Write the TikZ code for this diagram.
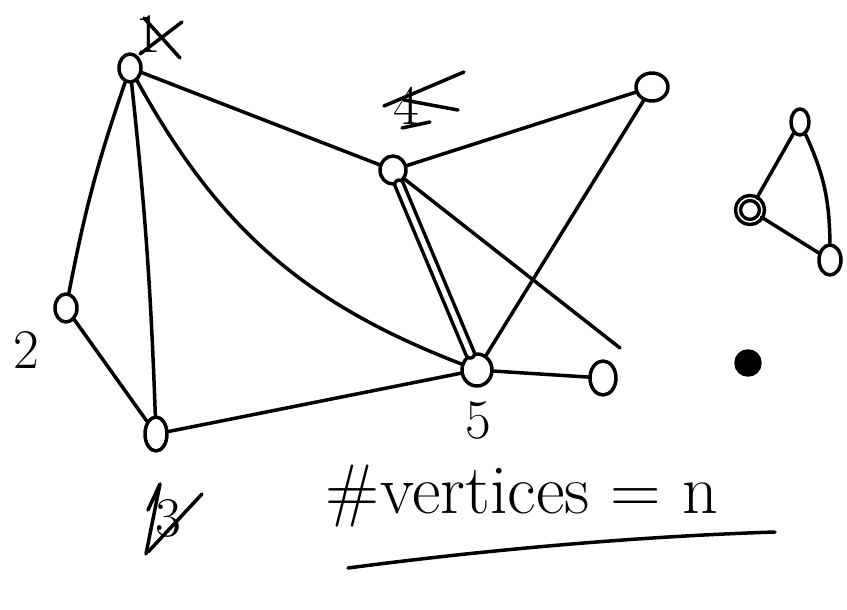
\documentclass[tikz,border=0pt]{standalone}
\usepackage{tikz}
\usetikzlibrary{shapes.geometric,positioning}
\begin{document}
\begin{tikzpicture}[x=1pt,y=-1pt,line cap=round,line join=round,
  vtx/.style={draw,ellipse,line width=3.5pt,minimum width=22pt,minimum height=28pt,inner sep=0pt},
  edge/.style={line width=3.5pt},
  lbl/.style={font=\fontsize{56}{62}\selectfont,inner sep=0pt}]
  \useasboundingbox (0,0) rectangle (847,610);
  % Main graph vertices
  \node[vtx] (v1) at (130,68) {};
  \node[vtx] (v2) at (66,308) {};
  \node[vtx,minimum height=34pt] (v3) at (156,434) {};
  \node[vtx,minimum width=26pt] (v4) at (393,170) {};
  \node[vtx,minimum width=30pt,minimum height=32pt] (v5) at (477,370) {};
  \node[vtx,minimum width=32pt,minimum height=28pt] (v6) at (652,87) {};
  \node[vtx,minimum width=26pt,minimum height=34pt] (v7) at (603,378) {};
  \coordinate (e1) at (620,348);
  % Main graph edges
  \draw[edge] (v1) to[bend right=4] (v2);
  \draw[edge] (v1) to[bend left=2] (v3);
  \draw[edge] (v2) -- (v3);
  \draw[edge] (v1) -- (v4);
  \draw[edge] (v1) to[bend right=20] (v5);
  \draw[edge] (v3) -- (v5);
  \draw[edge,double,double distance=5pt] (v4) -- (v5);
  \draw[edge] (v4) -- (v6);
  \draw[edge] (v6) -- (v5);
  \draw[edge] (v4) -- (e1);
  \draw[edge] (v5) -- (v7);
  % Labels (overwritten)
  \node[lbl] (l1) at (148,34) {1};
  \draw[edge] ([shift={(-4,-16)}]l1.center) -- ([shift={(32,24)}]l1.center);
  \draw[edge] ([shift={(-8,20)}]l1.center) -- ([shift={(34,-12)}]l1.center);
  \node[lbl] (l4) at (406,106) {4};
  \draw[edge] ([shift={(-22,0)}]l4.center) -- ([shift={(58,-34)}]l4.center);
  \draw[edge] ([shift={(-2,-6)}]l4.center) -- ([shift={(52,4)}]l4.center);
  \draw[edge] ([shift={(-4,22)}]l4.center) -- ([shift={(24,16)}]l4.center);
  \node[lbl] (l2) at (26,350) {2};
  \node[lbl] (l5) at (478,420) {5};
  \node[lbl] (l3) at (168,518) {3};
  \draw[edge] ([shift={(-20,-8)}]l3.center) -- ([shift={(-8,-34)}]l3.center) -- ([shift={(-22,36)}]l3.center);
  \draw[edge] ([shift={(-20,34)}]l3.center) -- ([shift={(34,-24)}]l3.center);
  % Second component
  \node[vtx,minimum width=18pt,minimum height=26pt] (a) at (800,122) {};
  \node[vtx,circle,minimum size=24pt,double,double distance=1.5pt] (b) at (750,210) {};
  \node[vtx,minimum width=22pt,minimum height=30pt] (c) at (830,260) {};
  \draw[edge] (a) -- (b);
  \draw[edge] (a) to[bend left=12] (c);
  \draw[edge] (b) -- (c);
  % Isolated vertex
  \node[vtx,circle,minimum size=24pt,fill=black] (d) at (748,363) {};
  % Count of vertices
  \node[font=\fontsize{70}{76}\selectfont,inner sep=0pt] (txt) at (522,496) {\#vertices = n};
  \coordinate (u1) at (348,568);
  \coordinate (u2) at (775,532);
  \draw[edge] (u1) .. controls (500,548) and (650,536) .. (u2);
\end{tikzpicture}
\end{document}
